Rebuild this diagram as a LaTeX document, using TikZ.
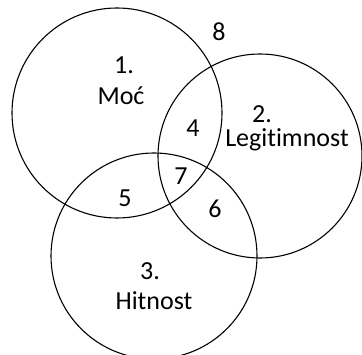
\documentclass[tikz,border=0pt]{standalone}
\usepackage{fontspec}
\setmainfont[Ligatures=NoCommon]{Carlito}
\begin{document}
\begin{tikzpicture}[x=1pt,y=-1pt,
  ring/.style={draw=black,line width=1.1pt},
  lbl/.style={anchor=base,inner sep=0pt,font=\fontsize{26}{30}\selectfont}]
\useasboundingbox (0,0) rectangle (362,355);
\draw[ring] (117,113) circle[radius=105];
\draw[ring] (260,156) circle[radius=102];
\draw[ring] (154,256) circle[radius=103];
\node[lbl] (n8) at (219,41) {8};
\node[lbl] (n1) at (124,74) {1.};
\node[lbl] (moc) at (121,105) {Moć};
\node[lbl] (n2) at (262,123) {2.};
\node[lbl] (leg) at (287,147) {Legitimnost};
\node[lbl] (n4) at (193,137) {4};
\node[lbl] (n7) at (181,185) {7};
\node[lbl] (n5) at (125,207) {5};
\node[lbl] (n6) at (215,218) {6};
\node[lbl] (n3) at (150,280) {3.};
\node[lbl] (hit) at (154,310) {Hitnost};
\end{tikzpicture}
\end{document}
